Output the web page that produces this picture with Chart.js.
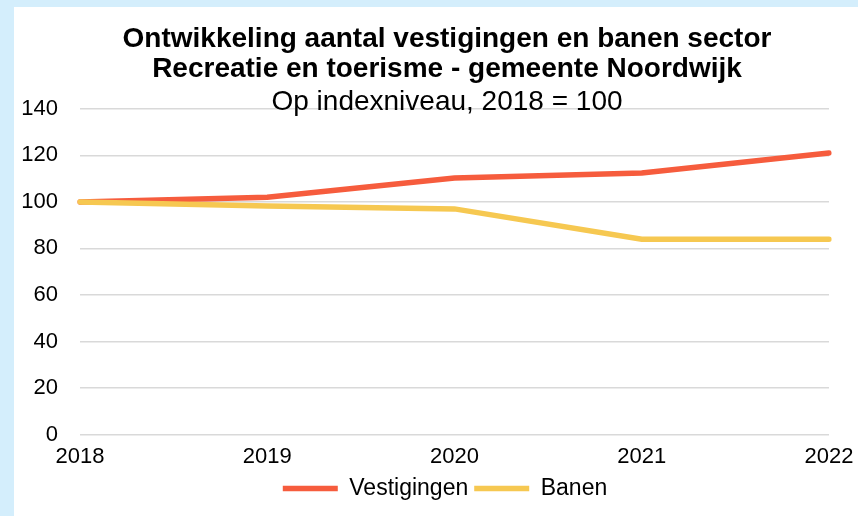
<!DOCTYPE html>
<html>
<head>
<meta charset="utf-8">
<script src="https://cdn.jsdelivr.net/npm/chart.js@4"></script>
<style>
  html, body { margin: 0; padding: 0; }
  body { width: 858px; height: 516px; background: #d4eefc; overflow: hidden; position: relative; }
  #wrap { position: absolute; left: 14px; top: 7px; width: 866px; height: 509px; background: #fff; }
</style>
</head>
<body>
<div id="wrap"><canvas id="chart"></canvas></div>
<script>
const years = ['2018', '2019', '2020', '2021', '2022'];
const vestigingen = [100, 102, 110.3, 112.4, 121];
const banen = [100, 98.2, 97, 84, 84];
const yTicks = [0, 20, 40, 60, 80, 100, 120, 140];

const font = 'Arial, "Liberation Sans", sans-serif';

// title and legend sit a little right of the plot centre in the original
const shiftBoxes = {
  id: 'shiftBoxes',
  afterLayout(chart) {
    chart.boxes.forEach(b => {
      if (b.axis) return;
      const dx = b.position === 'top' ? 22 : b.position === 'bottom' ? 20 : 0;
      b.left += dx;
      b.right += dx;
    });
  }
};

new Chart(document.getElementById('chart'), {
  type: 'line',
  data: {
    labels: years,
    datasets: [
      {
        label: 'Vestigingen',
        data: vestigingen,
        borderColor: '#f65c3d',
        backgroundColor: '#f65c3d',
        borderWidth: 5.5,
        borderCapStyle: 'round',
        pointRadius: 0,
        pointStyle: 'line',
        tension: 0,
        order: 1
      },
      {
        label: 'Banen',
        data: banen,
        borderColor: '#f6c851',
        backgroundColor: '#f6c851',
        borderWidth: 5.5,
        borderCapStyle: 'round',
        pointRadius: 0,
        pointStyle: 'line',
        tension: 0,
        order: 0
      }
    ]
  },
  plugins: [shiftBoxes],
  options: {
    responsive: true,
    maintainAspectRatio: false,
    animation: false,
    layout: { padding: { left: 7, right: 51, top: 0, bottom: 6 } },
    plugins: {
      title: {
        display: true,
        text: ['Ontwikkeling aantal vestigingen en banen sector', 'Recreatie en toerisme - gemeente Noordwijk'],
        color: '#000',
        font: { family: font, size: 28, weight: 'bold', lineHeight: 1.07 },
        padding: { top: 17, bottom: 0 }
      },
      subtitle: {
        display: true,
        text: 'Op indexniveau, 2018 = 100',
        color: '#000',
        font: { family: font, size: 28, lineHeight: 1.07 },
        padding: { top: 3, bottom: -8 }
      },
      legend: {
        position: 'bottom',
        labels: {
          color: '#000',
          font: { family: font, size: 23 },
          usePointStyle: true,
          pointStyleWidth: 55,
          boxHeight: 6,
          padding: 6,
          sort: (a, b) => a.datasetIndex - b.datasetIndex
        }
      },
      tooltip: { enabled: false }
    },
    scales: {
      y: {
        min: 0,
        max: 140,
        afterBuildTicks: axis => { axis.ticks = yTicks.map(v => ({ value: v })); },
        afterFit: axis => { axis.width = 59; },
        border: { display: false },
        grid: { color: '#d9d9d9', lineWidth: 1.5, drawTicks: false },
        ticks: { color: '#000', font: { family: font, size: 22 }, padding: 22 }
      },
      x: {
        afterFit: axis => { axis.height = 36.5; },
        border: { display: false },
        grid: { display: false, drawTicks: false },
        ticks: { color: '#000', font: { family: font, size: 22 }, padding: 9, maxRotation: 0 }
      }
    }
  }
});
</script>
</body>
</html>
